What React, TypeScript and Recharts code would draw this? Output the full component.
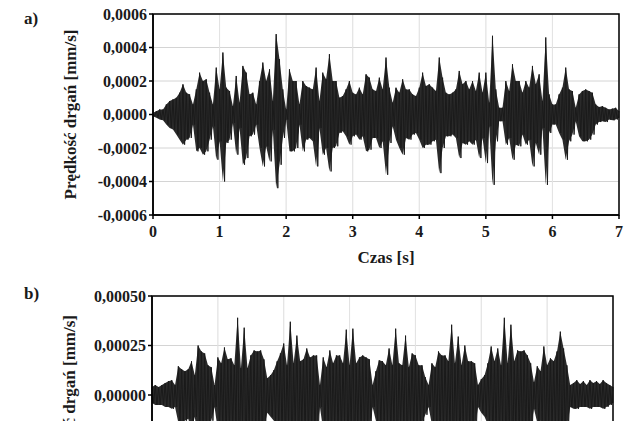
import React from "react";
import {
  Area,
  CartesianGrid,
  ComposedChart,
  Label,
  Line,
  ReferenceArea,
  XAxis,
  YAxis,
} from "recharts";

// time step of the envelope samples [s], values in 1e-4 mm/s
const STEP = 0.05;
const UNIT = 1e-4;

const timeTicks = [0, 1, 2, 3, 4, 5, 6, 7];
const ticksA = [-0.0006, -0.0004, -0.0002, 0, 0.0002, 0.0004, 0.0006];
const ticksB = [-0.0005, -0.00025, 0, 0.00025, 0.0005];

// a) upper / lower peaks per 0.05 s
const upperA = [
  0.1, 0.2, 0.3, 0.3, 0.6, 0.8, 0.9, 1.0, 1.3, 1.8,
  1.3, 1.2, 0.6, 1.5, 2.5, 2.0, 2.1, 1.3, 0.6, 2.8,
  1.5, 3.7, 1.6, 1.4, 0.5, 2.3, 0.7, 2.9, 2.5, 1.2,
  1.3, 0.6, 2.0, 3.1, 2.0, 2.7, 0.8, 4.8, 3.3, 1.5,
  0.3, 2.7, 2.0, 2.0, 0.6, 2.0, 1.7, 1.6, 1.5, 2.8,
  0.8, 2.5, 2.1, 3.6, 2.0, 2.0, 1.0, 1.1, 1.5, 2.0,
  1.3, 1.2, 1.6, 1.2, 2.4, 2.2, 1.5, 1.4, 2.2, 1.5,
  3.4, 1.6, 0.7, 1.6, 1.3, 2.1, 1.5, 1.5, 1.2, 1.1,
  1.6, 2.5, 1.7, 1.8, 1.6, 1.4, 3.4, 2.2, 1.3, 1.2,
  1.3, 1.5, 2.6, 1.8, 2.0, 1.5, 2.0, 1.4, 2.5, 1.3,
  2.5, 0.7, 4.7, 1.5, 0.4, 0.4, 2.0, 1.4, 3.0, 2.0,
  2.0, 1.3, 2.0, 1.6, 2.9, 1.8, 2.4, 0.8, 4.6, 1.2,
  0.6, 0.6, 1.2, 1.6, 2.8, 1.5, 1.4, 0.4, 1.2, 1.4,
  1.5, 1.4, 1.3, 0.6, 0.45, 0.5, 0.4, 0.3, 0.35, 0.4,
  0.2,
];
const lowerA = [
  -0.1, -0.2, -0.3, -0.35, -0.6, -0.8, -0.9, -1.2, -1.5, -1.8,
  -1.5, -1.4, -0.6, -2.2, -2.0, -2.4, -2.2, -1.5, -0.7, -2.7,
  -1.6, -4.0, -1.7, -1.5, -0.5, -2.4, -0.8, -3.0, -2.6, -1.3,
  -1.2, -0.6, -2.0, -3.1, -1.9, -2.8, -0.9, -4.4, -3.0, -1.4,
  -0.3, -2.2, -2.2, -2.0, -0.6, -2.2, -1.5, -1.4, -1.6, -3.1,
  -0.8, -2.4, -2.0, -3.4, -2.0, -1.9, -1.1, -1.0, -1.3, -1.8,
  -1.3, -1.2, -1.5, -1.3, -2.2, -2.1, -1.4, -1.4, -2.0, -1.6,
  -3.6, -1.7, -0.7, -1.5, -2.0, -2.4, -1.4, -1.5, -1.2, -1.1,
  -1.5, -2.0, -1.8, -1.8, -1.6, -1.5, -3.5, -2.0, -1.3, -1.3,
  -1.2, -1.4, -2.6, -1.7, -1.8, -1.6, -1.8, -1.5, -2.6, -1.4,
  -2.9, -0.7, -4.2, -1.6, -0.4, -0.4, -1.8, -1.4, -2.7, -1.8,
  -1.9, -1.2, -1.8, -1.5, -3.1, -1.7, -2.4, -0.8, -4.2, -1.1,
  -0.6, -0.6, -1.1, -1.5, -2.7, -1.6, -1.2, -0.4, -1.3, -1.6,
  -1.6, -1.5, -1.2, -0.6, -0.45, -0.4, -0.45, -0.3, -0.35, -0.3,
  -0.2,
];

// b) upper / lower peaks per 0.05 s
const upperB = [
  0.4, 0.5, 0.4, 0.5, 0.6, 0.7, 0.75, 0.5, 1.45, 1.3,
  1.2, 1.3, 1.7, 1.0, 2.5, 2.2, 2.1, 1.5, 1.4, 0.5,
  1.9, 1.6, 2.4, 1.8, 1.85, 1.5, 3.9, 1.35, 3.4, 1.35,
  2.0, 2.25, 2.2, 2.25, 1.8, 0.85, 1.0, 1.25, 1.7, 2.1,
  2.6, 1.5, 3.7, 1.6, 3.0, 1.7, 1.8, 2.35, 1.9, 2.0,
  2.0, 0.5, 1.9, 1.4, 2.25, 1.6, 2.0, 2.0, 1.6, 3.3,
  1.5, 3.35, 1.6, 1.9, 2.0, 1.9, 1.8, 0.5, 1.2, 1.75,
  1.7, 1.5, 2.35, 1.5, 3.35, 1.6, 1.5, 3.0, 1.4, 2.1,
  2.0, 1.5, 1.5, 0.9, 0.5, 1.6, 1.4, 2.2, 2.0, 2.0,
  1.7, 3.55, 1.6, 2.95, 1.5, 2.5, 1.7, 1.7, 1.6, 0.5,
  0.8, 1.0, 1.6, 2.45, 1.7, 2.35, 1.5, 3.9, 1.6, 3.55,
  1.7, 2.25, 2.2, 2.25, 2.0, 1.6, 0.65, 1.45, 1.2, 2.45,
  1.5, 1.85, 1.7, 2.2, 3.2, 2.35, 1.5, 0.5, 0.6, 0.75,
  0.55, 0.7, 0.5, 0.75, 0.6, 0.7, 0.55, 0.75, 0.6, 0.5,
  0.4,
];
const lowerB = [
  -0.4, -0.5, -0.5, -0.5, -0.6, -0.6, -0.7, -0.6, -1.4, -1.4,
  -1.3, -1.2, -1.8, -1.1, -2.4, -2.1, -2.0, -1.6, -1.3, -0.6,
  -1.8, -1.7, -2.3, -1.9, -1.8, -1.6, -3.6, -1.4, -3.2, -1.4,
  -2.1, -2.2, -2.1, -2.3, -1.7, -0.9, -1.1, -1.3, -1.6, -2.0,
  -2.5, -1.6, -3.5, -1.7, -2.9, -1.6, -1.9, -2.2, -1.8, -2.1,
  -1.9, -0.6, -1.8, -1.5, -2.2, -1.7, -1.9, -2.1, -1.5, -3.1,
  -1.6, -3.2, -1.7, -1.8, -2.1, -1.8, -1.7, -0.6, -1.3, -1.7,
  -1.6, -1.6, -2.2, -1.6, -3.2, -1.5, -1.6, -2.8, -1.5, -2.0,
  -1.9, -1.6, -1.4, -1.0, -0.6, -1.5, -1.5, -2.1, -1.9, -2.1,
  -1.8, -3.4, -1.7, -2.8, -1.6, -2.4, -1.8, -1.6, -1.7, -0.6,
  -0.9, -1.1, -1.5, -2.3, -1.8, -2.2, -1.6, -3.7, -1.7, -3.4,
  -1.8, -2.1, -2.3, -2.1, -1.9, -1.7, -0.7, -1.4, -1.3, -2.3,
  -1.6, -1.7, -1.8, -2.1, -3.0, -2.2, -1.6, -0.6, -0.7, -0.7,
  -0.6, -0.6, -0.6, -0.7, -0.6, -0.6, -0.6, -0.7, -0.6, -0.5,
  -0.4,
];

const FONT = '"Liberation Serif", "Times New Roman", serif';
const INK = "#1a1a1a";

type Row = { t: number; v: number };
type Env = { t: number; range: [number, number] };

// each sample: peak up, then trough half a step later
function buildSeries(upper: number[], lower: number[]) {
  const rows: Row[] = [];
  upper.forEach((u, i) => {
    const t = i * STEP;
    rows.push({ t, v: u * UNIT });
    rows.push({ t: Math.min(t + STEP / 2, 7), v: lower[i] * UNIT });
  });
  return rows;
}

function buildEnvelope(upper: number[], lower: number[]) {
  return upper.map((u, i): Env => ({
    t: i * STEP,
    range: [lower[i] * UNIT, u * UNIT],
  }));
}

interface PanelProps {
  wave: Row[];
  envelope: Env[];
  ticks: number[];
  digits: number;
  yAxisWidth: number;
  right: number;
  top: number;
  height: number;
  bottom: number;
  showX: boolean;
  labelDy?: number;
}

const tickStyle = { fill: INK, fontSize: 16, fontWeight: "bold", fontFamily: FONT };
const titleStyle = { fill: INK, fontSize: 17, fontWeight: "bold", fontFamily: FONT };

function Panel({ wave, envelope, ticks, digits, yAxisWidth, right, top, height, bottom, showX, labelDy = 0 }: PanelProps) {
  const lo = ticks[0];
  const hi = ticks[ticks.length - 1];
  const fmt = (v: number) => v.toFixed(digits).replace(".", ",");
  return (
    <div style={{ position: "absolute", left: 0, top }}>
      <ComposedChart
        width={641}
        height={height}
        margin={{ top: 14, right, bottom, left: 0 }}
      >
        <CartesianGrid stroke="#d4d4d4" strokeWidth={1} />
        <XAxis
          dataKey="t"
          type="number"
          domain={[0, 7]}
          ticks={timeTicks}
          interval={0}
          height={showX ? 50 : 0}
          stroke="#000"
          strokeWidth={1.5}
          tickSize={4}
          tickMargin={7}
          tick={tickStyle}
          hide={!showX}
        >
          <Label value="Czas [s]" position="insideBottom" offset={2} style={titleStyle} />
        </XAxis>
        <YAxis
          type="number"
          domain={[lo, hi]}
          ticks={ticks}
          interval={0}
          width={yAxisWidth}
          stroke="#000"
          strokeWidth={1.5}
          tickSize={4}
          tickFormatter={fmt}
          tick={tickStyle}
        >
          <Label
            value="Prędkość drgań [mm/s]"
            angle={-90}
            position="center"
            dx={-7}
            dy={labelDy}
            style={titleStyle}
          />
        </YAxis>
        <Area
          data={envelope}
          type="linear"
          dataKey="range"
          stroke="none"
          fill="#2a2a2a"
          fillOpacity={1}
          isAnimationActive={false}
        />
        <Line
          data={wave}
          type="linear"
          dataKey="v"
          stroke="#1a1a1a"
          strokeWidth={1}
          dot={false}
          isAnimationActive={false}
        />
        {/* light vertical grid shows through the signal */}
        <CartesianGrid horizontal={false} stroke="#ffffff" strokeOpacity={0.35} />
        <ReferenceArea
          x1={0}
          x2={7}
          y1={lo}
          y2={hi}
          fill="none"
          stroke="#000"
          strokeWidth={1.5}
          ifOverflow="visible"
        />
      </ComposedChart>
    </div>
  );
}

const tagStyle: React.CSSProperties = {
  position: "absolute",
  left: 24,
  fontFamily: FONT,
  fontWeight: "bold",
  fontSize: 17,
  color: INK,
};

export default function App() {
  return (
    <div
      style={{
        position: "absolute",
        left: 0,
        top: 0,
        width: 641,
        height: 421,
        overflow: "hidden",
        background: "#fff",
      }}
    >
      <Panel
        wave={buildSeries(upperA, lowerA)}
        envelope={buildEnvelope(upperA, lowerA)}
        ticks={ticksA}
        digits={4}
        yAxisWidth={153}
        right={22}
        top={0}
        height={270}
        bottom={5}
        showX
      />
      <Panel
        wave={buildSeries(upperB, lowerB)}
        envelope={buildEnvelope(upperB, lowerB)}
        ticks={ticksB}
        digits={5}
        yAxisWidth={152}
        right={28}
        top={282}
        height={226}
        bottom={14}
        showX={false}
        labelDy={5}
      />
      <div style={{ ...tagStyle, top: 9 }}>a)</div>
      <div style={{ ...tagStyle, top: 284 }}>b)</div>
    </div>
  );
}
